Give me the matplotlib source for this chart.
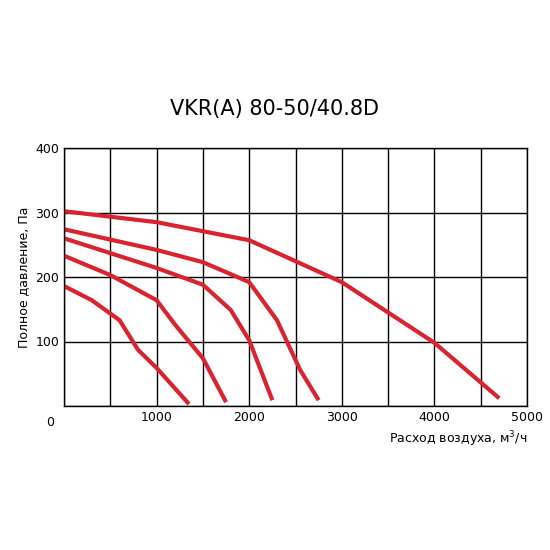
import matplotlib
matplotlib.use("Agg")
import matplotlib.pyplot as plt

c1_x = [0, 1000, 2000, 3000, 4000, 4700]
c1_y = [302, 285, 257, 192, 98, 12]
c2_x = [0, 1000, 1500, 2000, 2300, 2550, 2750]
c2_y = [274, 242, 223, 192, 133, 56, 9]
c3_x = [0, 1000, 1500, 1800, 2000, 2250]
c3_y = [260, 214, 188, 149, 102, 9]
c4_x = [0, 500, 1000, 1200, 1500, 1750]
c4_y = [233, 203, 164, 126, 74, 6]
c5_x = [0, 300, 600, 800, 1000, 1350]
c5_y = [186, 164, 133, 87, 59, 3]
curves = [(c1_x, c1_y), (c2_x, c2_y), (c3_x, c3_y), (c4_x, c4_y), (c5_x, c5_y)]

fig = plt.figure(figsize=(5.5, 5.5), dpi=100)
ax = fig.add_axes([64/550, 144/550, 463/550, 258/550])
for xs, ys in curves:
    ax.plot(xs, ys, color="#d9232e", lw=3, solid_capstyle="butt")
ax.set_xlim(0, 5000)
ax.set_ylim(0, 400)
ax.set_xticks(range(0, 5001, 500), minor=False)
ax.set_xticklabels(["" if v % 1000 or v == 0 else str(v) for v in range(0, 5001, 500)])
ax.set_yticks([0, 100, 200, 300, 400])
ax.set_yticklabels(["", "100", "200", "300", "400"])
ax.grid(True, color="black", lw=1)
ax.tick_params(length=0, labelsize=9)
for s in ax.spines.values():
    s.set_linewidth(1)
ax.text(-150, -25, "0", fontsize=9, ha="center", va="center")
ax.set_xlabel("Расход воздуха, м$^3$/ч", fontsize=9, loc="right")
ax.set_ylabel("Полное давление, Па", fontsize=9)
fig.text(0.5, 0.79, "VKR(A) 80-50/40.8D", ha="center", fontsize=15)
fig.savefig("out.png", dpi=100)
